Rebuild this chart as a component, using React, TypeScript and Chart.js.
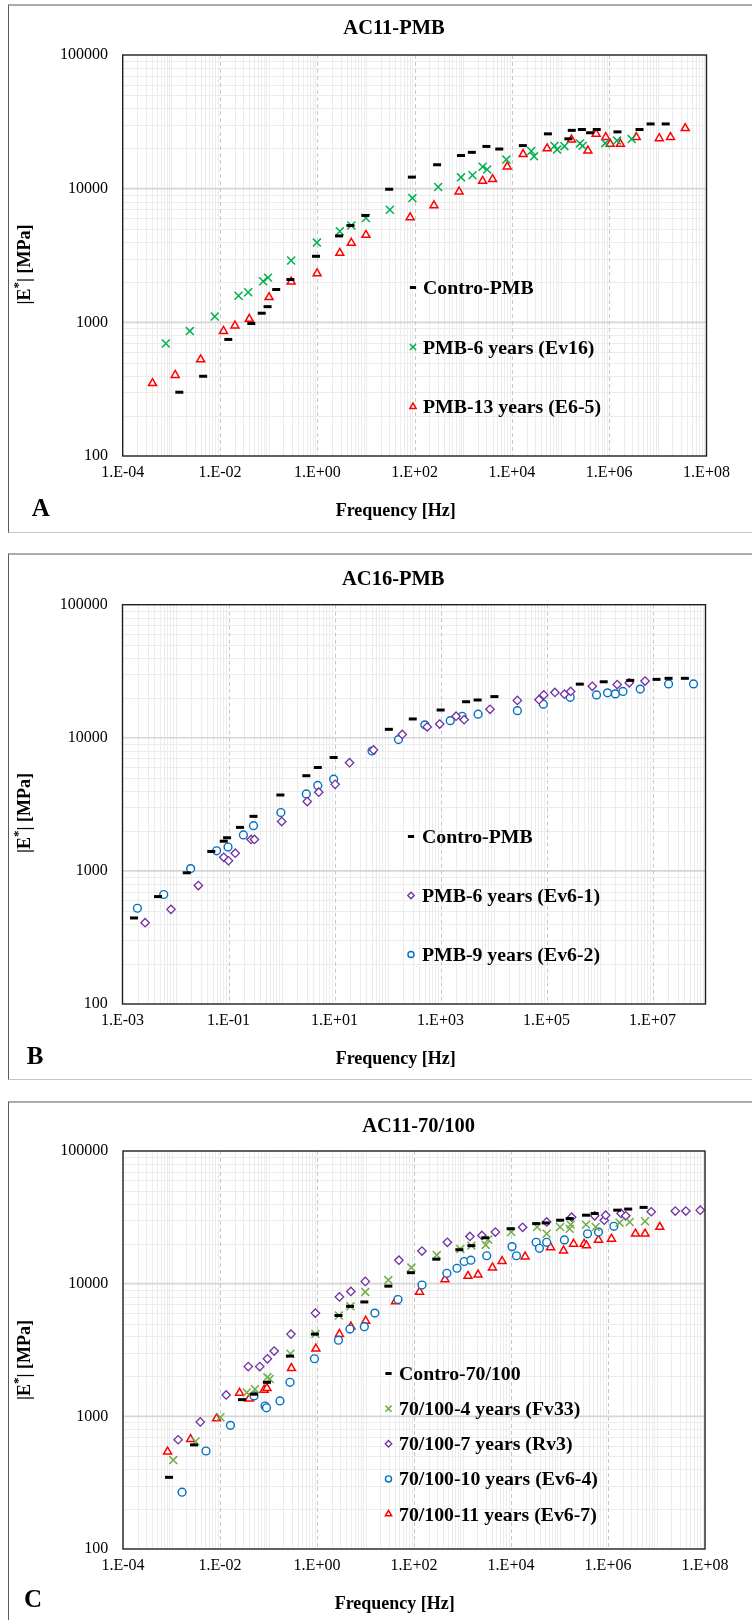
import React, { useEffect, useRef } from 'react';
import { Chart, registerables } from 'chart.js';
import { drawPoint } from 'chart.js/helpers';

Chart.register(...registerables);

type Pt = [number, number]; // [frequency Hz, |E*| MPa]

// ---------------- Panel A : AC11-PMB ----------------
const A_CONTRO_PMB: Pt[] = [
  [0.00146, 300], [0.0045, 395], [0.0148, 745], [0.044, 980], [0.072, 1170], [0.095, 1310],
  [0.143, 1760], [0.28, 2090], [0.94, 3120], [2.8, 4430], [4.8, 5300], [9.7, 6300], [30, 9900],
  [88, 12200], [290, 15100], [900, 17700], [1500, 18700], [2990, 20700], [5500, 19800],
  [16800, 21000], [55000, 25700], [145000, 23600], [170000, 27300], [275000, 27700],
  [405000, 26200], [555000, 27700], [1.48e6, 26600], [4.2e6, 27700], [7.1e6, 30500], [1.45e7, 30500],
];
const A_PMB_6Y_EV16: Pt[] = [
  [0.00077, 694], [0.0024, 860], [0.0078, 1105], [0.024, 1580], [0.038, 1680], [0.077, 2030],
  [0.097, 2160], [0.29, 2900], [0.98, 3950], [2.9, 4800], [5.0, 5300], [10, 6030], [31, 6950],
  [90, 8500], [305, 10300], [900, 12150], [1550, 12600], [2500, 14600], [3100, 13900],
  [7700, 16500], [25000, 19150], [28500, 17450], [75000, 20900], [85000, 19600], [120000, 20800],
  [250000, 21800], [285000, 20900], [830000, 21900], [1.45e6, 22900], [2.9e6, 23500],
];
const A_PMB_13Y_E6_5: Pt[] = [
  [0.00041, 350], [0.0012, 403], [0.004, 527], [0.0118, 860], [0.0203, 945], [0.040, 1060],
  [0.102, 1540], [0.29, 2010], [0.99, 2320], [2.9, 3300], [5.0, 3930], [10, 4500], [81, 6100],
  [250, 7500], [820, 9500], [2500, 11400], [4000, 11750], [8000, 14600], [17000, 18100],
  [53000, 19950], [168000, 23250], [365000, 19250], [540000, 25700], [850000, 24300],
  [1.05e6, 21600], [1.7e6, 21600], [3.6e6, 24300], [1.07e7, 23800], [1.82e7, 24300], [3.65e7, 28300],
];

// ---------------- Panel B : AC16-PMB ----------------
const B_CONTRO_PMB: Pt[] = [
  [0.00165, 443], [0.00468, 641], [0.0163, 968], [0.0473, 1400], [0.0813, 1672], [0.094, 1775],
  [0.165, 2123], [0.296, 2570], [0.953, 3717], [2.94, 5190], [4.84, 5985], [9.64, 7110],
  [106, 11580], [300, 13850], [1007, 16180], [3040, 18660], [5010, 19230], [10400, 20400],
  [425000, 25300], [1.2e6, 26360], [3.8e6, 27000], [1.19e7, 27480], [2.01e7, 27980], [4.08e7, 27980],
];
const B_PMB_6Y_EV6_1: Pt[] = [
  [0.00267, 408], [0.0082, 514], [0.027, 776], [0.0813, 1265], [0.1, 1192], [0.134, 1358],
  [0.267, 1723], [0.309, 1723], [1.01, 2350], [3.06, 3318], [5.05, 3900], [10.3, 4470],
  [19.2, 6500], [54.4, 8110], [190, 10600], [561, 12080], [966, 12680], [1963, 14520],
  [2795, 13680], [8600, 16370], [28200, 19100], [72200, 19330], [89000, 21000], [144000, 21900],
  [218000, 21280], [286000, 22300], [731000, 24380], [2.16e6, 25120], [3.64e6, 25900], [7.24e6, 26680],
];
const B_PMB_9Y_EV6_2: Pt[] = [
  [0.00191, 524], [0.006, 665], [0.0193, 1041], [0.0596, 1416], [0.098, 1511], [0.191, 1862],
  [0.296, 2188], [0.973, 2744], [2.94, 3785], [4.84, 4390], [9.64, 4885], [51, 7960],
  [161, 9690], [506, 12510], [1528, 13450], [2570, 14520], [5120, 15060], [28200, 15990],
  [87100, 17900], [280000, 20150], [880000, 21000], [1.42e6, 21770], [1.99e6, 21380],
  [2.77e6, 22300], [5.87e6, 23230], [2.01e7, 25400], [5.94e7, 25400],
];

// ---------------- Panel C : AC11-70/100 ----------------
const C_CONTRO_70_100: Pt[] = [
  [0.00089, 347], [0.00291, 609], [0.0284, 1336], [0.0502, 1469], [0.0929, 1805], [0.277, 2846],
  [0.906, 4166], [2.77, 5754], [4.78, 6745], [9.46, 7280], [29.6, 9580], [86.3, 12100],
  [288, 15300], [861, 18030], [1522, 19350], [2945, 22180], [9860, 25960], [33000, 28370],
  [52000, 28700], [103000, 30080], [162000, 30970], [352000, 32820], [531000, 33810],
  [1.55e6, 35820], [2.61e6, 36500], [5.42e6, 37580],
];
const C_4Y_FV33: Pt[] = [
  [0.00109, 468], [0.00312, 646], [0.0102, 985], [0.0357, 1511], [0.0526, 1602], [0.095, 1968],
  [0.106, 1910], [0.284, 2965], [0.927, 4170], [2.83, 5750], [4.89, 6745], [9.9, 8670],
  [29.6, 10640], [88.3, 13220], [295, 16430], [902, 18270], [1522, 19350], [3010, 19590],
  [3380, 21530], [10100, 24480], [34500, 26750], [54400, 23770], [103000, 26750], [162000, 25960],
  [170000, 27860], [352000, 27860], [556000, 26750], [1.73e6, 28830], [2.8e6, 29180], [5.8e6, 29520],
];
const C_7Y_RV3: Pt[] = [
  [0.00137, 666], [0.00392, 908], [0.0134, 1449], [0.0382, 2371], [0.066, 2371], [0.095, 2716],
  [0.131, 3107], [0.29, 4166], [0.927, 5998], [2.9, 7950], [5.0, 8730], [9.9, 10400],
  [48.8, 15030], [146, 17620], [487, 20510], [1422, 22680], [2512, 23090], [4755, 24480],
  [17400, 26590], [54400, 29180], [178000, 31690], [531000, 32460], [837000, 30080],
  [897000, 32820], [1.86e6, 33810], [2.33e6, 32460], [7.8e6, 34840], [2.44e7, 35250],
  [4.03e7, 35250], [7.98e7, 35820],
];
const C_10Y_EV6_4: Pt[] = [
  [0.00165, 268], [0.00514, 548], [0.0164, 855], [0.0502, 1426], [0.0848, 1195], [0.0908, 1160],
  [0.172, 1306], [0.277, 1805], [0.885, 2716], [2.77, 3750], [4.78, 4550], [9.46, 4740],
  [15.6, 6000], [46.7, 7590], [146, 9760], [476, 11970], [769, 13070], [1083, 14690],
  [1489, 15030], [3155, 16240], [10500, 19020], [12950, 16240], [33000, 20510], [38600, 18480],
  [54400, 20510], [126000, 21380], [378000, 23770], [637000, 24480], [1.32e6, 27060],
];
const C_11Y_EV6_7: Pt[] = [
  [0.00083, 542], [0.00248, 673], [0.0085, 962], [0.0253, 1503], [0.040, 1359], [0.081, 1584],
  [0.0929, 1631], [0.297, 2305], [0.948, 3237], [2.9, 4166], [5.0, 4745], [10.1, 5240],
  [41.6, 7360], [130, 8670], [435, 10770], [1297, 11420], [2094, 11700], [4150, 13220],
  [6545, 14790], [19530, 15970], [65400, 18790], [121000, 17740], [195000, 19950], [322000, 19950],
  [360000, 19380], [637000, 21380], [1.18e6, 21770], [3.68e6, 23770], [5.8e6, 23770], [1.17e7, 26750],
];

// ---------------- Axis ticks ----------------
const X_TICKS_AC: number[] = [1e-4, 1e-2, 1, 1e2, 1e4, 1e6, 1e8];
const X_TICKS_B: number[] = [1e-3, 1e-1, 1e1, 1e3, 1e5, 1e7];
const Y_TICKS: number[] = [100, 1000, 10000, 100000];

// ---------------- Styles ----------------
const FONT = '"Liberation Serif", "Times New Roman", Times, serif';

interface MarkStyle { pointStyle: any; radius: number; borderWidth: number; color: string; fill: string; }
const S_DASH: MarkStyle = { pointStyle: 'line', radius: 4, borderWidth: 3, color: '#000000', fill: '#000000' };
const S_X_GREEN: MarkStyle = { pointStyle: 'crossRot', radius: 5.6, borderWidth: 1.5, color: '#00b050', fill: '#00b050' };
const S_X_OLIVE: MarkStyle = { pointStyle: 'crossRot', radius: 5.6, borderWidth: 1.5, color: '#70ad47', fill: '#70ad47' };
const S_TRI: MarkStyle = { pointStyle: 'triangle', radius: 4.6, borderWidth: 1.5, color: '#ff0000', fill: '#ffffff' };
const S_DIAM: MarkStyle = { pointStyle: 'rectRot', radius: 4.2, borderWidth: 1.3, color: '#7030a0', fill: '#ffffff' };
const S_CIRC: MarkStyle = { pointStyle: 'circle', radius: 3.9, borderWidth: 1.4, color: '#0070c0', fill: '#ffffff' };

interface Series { label: string; data: Pt[]; style: MarkStyle; }
interface PanelCfg {
  box: { top: number; height: number; bottom: boolean };
  canvasTop: number; canvasH: number;
  plot: { left: number; right: number; top: number; bottom: number };
  xMin: number; xMax: number; xTicks: number[];
  title: string; titleX: number; titleY: number;
  letter: string; letterX: number; letterY: number;
  xTitleX: number; xTitleY: number;
  yTitleX: number; yTitleY: number;
  legend: { markerX: number; textX: number; baselines: number[] };
  series: Series[];
}

const PANELS: PanelCfg[] = [
  {
    box: { top: 3.5, height: 529, bottom: true },
    canvasTop: 0, canvasH: 540,
    plot: { left: 122.7, right: 706.5, top: 55, bottom: 456 },
    xMin: 1e-4, xMax: 1e8, xTicks: X_TICKS_AC,
    title: 'AC11-PMB', titleX: 394, titleY: 34,
    letter: 'A', letterX: 31.7, letterY: 516,
    xTitleX: 395.7, xTitleY: 516,
    yTitleX: 25, yTitleY: 264.5,
    legend: { markerX: 413, textX: 423, baselines: [294, 353.5, 413.2] },
    series: [
      { label: 'Contro-PMB', data: A_CONTRO_PMB, style: S_DASH },
      { label: 'PMB-6 years (Ev16)', data: A_PMB_6Y_EV16, style: S_X_GREEN },
      { label: 'PMB-13 years (E6-5)', data: A_PMB_13Y_E6_5, style: S_TRI },
    ],
  },
  {
    box: { top: 553, height: 527, bottom: true },
    canvasTop: 540, canvasH: 550,
    plot: { left: 122.5, right: 705.5, top: 604.7, bottom: 1004 },
    xMin: 1e-3, xMax: 1e8, xTicks: X_TICKS_B,
    title: 'AC16-PMB', titleX: 393.3, titleY: 584.8,
    letter: 'B', letterX: 26.7, letterY: 1064,
    xTitleX: 395.7, xTitleY: 1064,
    yTitleX: 25, yTitleY: 813,
    legend: { markerX: 411, textX: 422, baselines: [843, 902, 961] },
    series: [
      { label: 'Contro-PMB', data: B_CONTRO_PMB, style: S_DASH },
      { label: 'PMB-6 years (Ev6-1)', data: B_PMB_6Y_EV6_1, style: S_DIAM },
      { label: 'PMB-9 years (Ev6-2)', data: B_PMB_9Y_EV6_2, style: S_CIRC },
    ],
  },
  {
    box: { top: 1101, height: 540, bottom: false },
    canvasTop: 1090, canvasH: 530,
    plot: { left: 123, right: 705, top: 1151, bottom: 1549 },
    xMin: 1e-4, xMax: 1e8, xTicks: X_TICKS_AC,
    title: 'AC11-70/100', titleX: 418.6, titleY: 1132.3,
    letter: 'C', letterX: 24, letterY: 1607,
    xTitleX: 394.7, xTitleY: 1609,
    yTitleX: 25, yTitleY: 1360,
    legend: { markerX: 388.5, textX: 399, baselines: [1380, 1415.2, 1450.3, 1485.4, 1520.5] },
    series: [
      { label: 'Contro-70/100', data: C_CONTRO_70_100, style: S_DASH },
      { label: '70/100-4 years (Fv33)', data: C_4Y_FV33, style: S_X_OLIVE },
      { label: '70/100-7 years (Rv3)', data: C_7Y_RV3, style: S_DIAM },
      { label: '70/100-10 years (Ev6-4)', data: C_10Y_EV6_4, style: S_CIRC },
      { label: '70/100-11 years (Ev6-7)', data: C_11Y_EV6_7, style: S_TRI },
    ],
  },
];

const YW = 72; // fixed y-axis box width
const XH = 30; // fixed x-axis box height

function fmtExp(v: number): string {
  const e = Math.round(Math.log10(v));
  return '1.E' + (e < 0 ? '-' : '+') + String(Math.abs(e)).padStart(2, '0');
}

function Panel({ cfg }: { cfg: PanelCfg }) {
  const ref = useRef<HTMLCanvasElement | null>(null);
  useEffect(() => {
    const canvas = ref.current!;
    const W = 752;
    const H = cfg.canvasH;
    const off = cfg.canvasTop;

    const gridPlugin = {
      id: 'excelGrid',
      beforeDatasetsDraw(chart: any) {
        const { ctx, chartArea: a } = chart;
        const xs = chart.scales.x;
        const ys = chart.scales.y;
        const xe0 = Math.round(Math.log10(cfg.xMin));
        const xe1 = Math.round(Math.log10(cfg.xMax));
        const line = (x0: number, y0: number, x1: number, y1: number) => {
          ctx.beginPath(); ctx.moveTo(x0, y0); ctx.lineTo(x1, y1); ctx.stroke();
        };
        ctx.save();
        ctx.fillStyle = '#ffffff';
        ctx.fillRect(a.left, a.top, a.right - a.left, a.bottom - a.top);
        // minor grid
        ctx.lineWidth = 1;
        ctx.strokeStyle = '#ececec';
        for (let e = xe0; e < xe1; e++) {
          for (let m = 1; m <= 9; m++) {
            const v = m * Math.pow(10, e);
            if (m === 1 && cfg.xTicks.some((t) => Math.abs(Math.log10(t) - e) < 1e-6)) continue;
            if (m === 1 && e === xe0) continue;
            const px = Math.round(xs.getPixelForValue(v)) + 0.5;
            line(px, a.top, px, a.bottom);
          }
        }
        for (let e = 2; e < 5; e++) {
          for (let m = 2; m <= 9; m++) {
            const py = Math.round(ys.getPixelForValue(m * Math.pow(10, e))) + 0.5;
            line(a.left, py, a.right, py);
          }
        }
        // major horizontal
        ctx.strokeStyle = '#d6d6d6';
        ctx.lineWidth = 1.6;
        for (const t of Y_TICKS) {
          if (t === 100 || t === 100000) continue;
          const py = ys.getPixelForValue(t);
          line(a.left, py, a.right, py);
        }
        // major vertical dashed
        ctx.strokeStyle = '#c8c8c8';
        ctx.lineWidth = 1;
        ctx.setLineDash([4, 3]);
        for (const t of cfg.xTicks) {
          if (t === cfg.xMin || t === cfg.xMax) continue;
          const px = Math.round(xs.getPixelForValue(t)) + 0.5;
          line(px, a.top, px, a.bottom);
        }
        ctx.restore();
      },
      afterDatasetsDraw(chart: any) {
        const { ctx, chartArea: a } = chart;
        ctx.save();
        ctx.strokeStyle = '#1f1f1f';
        ctx.lineWidth = 1.4;
        ctx.strokeRect(a.left, a.top, a.right - a.left, a.bottom - a.top);
        ctx.restore();
      },
    };

    const textPlugin = {
      id: 'panelText',
      afterDraw(chart: any) {
        const ctx: CanvasRenderingContext2D = chart.ctx;
        ctx.save();
        ctx.fillStyle = '#000000';
        ctx.textBaseline = 'alphabetic';
        // title
        ctx.font = `bold 20.5px ${FONT}`;
        ctx.textAlign = 'center';
        ctx.fillText(cfg.title, cfg.titleX, cfg.titleY - off);
        // x title
        ctx.font = `bold 18px ${FONT}`;
        ctx.fillText('Frequency [Hz]', cfg.xTitleX, cfg.xTitleY - off);
        // panel letter
        ctx.font = `bold 25px ${FONT}`;
        ctx.textAlign = 'left';
        ctx.fillText(cfg.letter, cfg.letterX, cfg.letterY - off);
        // y title
        ctx.save();
        ctx.translate(cfg.yTitleX, cfg.yTitleY - off);
        ctx.rotate(-Math.PI / 2);
        ctx.textBaseline = 'middle';
        const fBig = `bold 18px ${FONT}`;
        const fSup = `bold 13px ${FONT}`;
        const parts: [string, string, number][] = [['|E', fBig, 0], ['*', fSup, -6], ['| [MPa]', fBig, 0]];
        let total = 0;
        for (const [t, f] of parts) { ctx.font = f; total += ctx.measureText(t).width; }
        let cx = -total / 2;
        for (const [t, f, dy] of parts) {
          ctx.font = f;
          ctx.fillText(t, cx, dy);
          cx += ctx.measureText(t).width;
        }
        ctx.restore();
        // legend
        ctx.font = `bold 19.8px ${FONT}`;
        ctx.textAlign = 'left';
        cfg.series.forEach((s, i) => {
          const by = cfg.legend.baselines[i] - off;
          const my = by - 6.5;
          ctx.save();
          ctx.lineWidth = s.style.borderWidth;
          ctx.strokeStyle = s.style.color;
          ctx.fillStyle = s.style.fill;
          drawPoint(ctx, {
            pointStyle: s.style.pointStyle,
            rotation: 0,
            radius: s.style.radius * 0.78,
            borderWidth: s.style.borderWidth,
          } as any, cfg.legend.markerX, my);
          ctx.restore();
          ctx.fillStyle = '#000000';
          ctx.fillText(s.label, cfg.legend.textX, by);
        });
        ctx.restore();
      },
    };

    const chart = new Chart(canvas, {
      type: 'scatter',
      data: {
        datasets: cfg.series.map((s) => ({
          label: s.label,
          data: s.data.map(([x, y]) => ({ x, y })),
          pointStyle: s.style.pointStyle,
          pointRadius: s.style.radius,
          pointHoverRadius: s.style.radius,
          pointBorderWidth: s.style.borderWidth,
          borderColor: s.style.color,
          backgroundColor: s.style.fill,
          pointBorderColor: s.style.color,
          pointBackgroundColor: s.style.fill,
          showLine: false,
          clip: false as any,
        })),
      },
      options: {
        responsive: false,
        animation: false,
        devicePixelRatio: 1,
        events: [],
        layout: {
          padding: {
            left: cfg.plot.left - YW,
            right: W - cfg.plot.right,
            top: cfg.plot.top - off,
            bottom: H - (cfg.plot.bottom - off) - XH,
          },
        },
        plugins: {
          legend: { display: false },
          tooltip: { enabled: false },
          title: { display: false },
        },
        scales: {
          x: {
            type: 'logarithmic',
            position: 'bottom',
            min: cfg.xMin,
            max: cfg.xMax,
            afterBuildTicks: (sc: any) => { sc.ticks = cfg.xTicks.map((v) => ({ value: v })); },
            afterFit: (sc: any) => { sc.height = XH; },
            grid: { display: false, drawTicks: false },
            border: { display: false },
            ticks: {
              autoSkip: false,
              maxRotation: 0,
              minRotation: 0,
              padding: 7.4,
              color: '#000000',
              font: { family: FONT, size: 16 },
              callback: (v: any) => fmtExp(Number(v)),
            },
          },
          y: {
            type: 'logarithmic',
            position: 'left',
            min: 100,
            max: 100000,
            afterBuildTicks: (sc: any) => { sc.ticks = Y_TICKS.map((v) => ({ value: v })); },
            afterFit: (sc: any) => { sc.width = YW; },
            grid: { display: false, drawTicks: false },
            border: { display: false },
            ticks: {
              autoSkip: false,
              padding: 14.7,
              color: '#000000',
              font: { family: FONT, size: 16 },
              callback: (v: any) => String(Math.round(Number(v))),
            },
          },
        },
      } as any,
      plugins: [gridPlugin, textPlugin],
    });
    return () => chart.destroy();
  }, [cfg]);

  return (
    <canvas
      ref={ref}
      width={752}
      height={cfg.canvasH}
      style={{ position: 'absolute', left: 0, top: cfg.canvasTop, width: 752, height: cfg.canvasH }}
    />
  );
}

export default function App() {
  return (
    <div style={{ position: 'absolute', left: 0, top: 0, width: 752, height: 1620, overflow: 'hidden', background: '#ffffff' }}>
      {PANELS.map((p, i) => (
        <React.Fragment key={i}>
          <div
            style={{
              position: 'absolute',
              left: 8,
              top: p.box.top,
              width: 760,
              height: p.box.height,
              boxSizing: 'border-box',
              borderTop: '2px solid #ababab',
              borderLeft: '1px solid #5a5a5a',
              borderBottom: p.box.bottom ? '1px solid #c6c6c6' : 'none',
            }}
          />
          <Panel cfg={p} />
        </React.Fragment>
      ))}
    </div>
  );
}
